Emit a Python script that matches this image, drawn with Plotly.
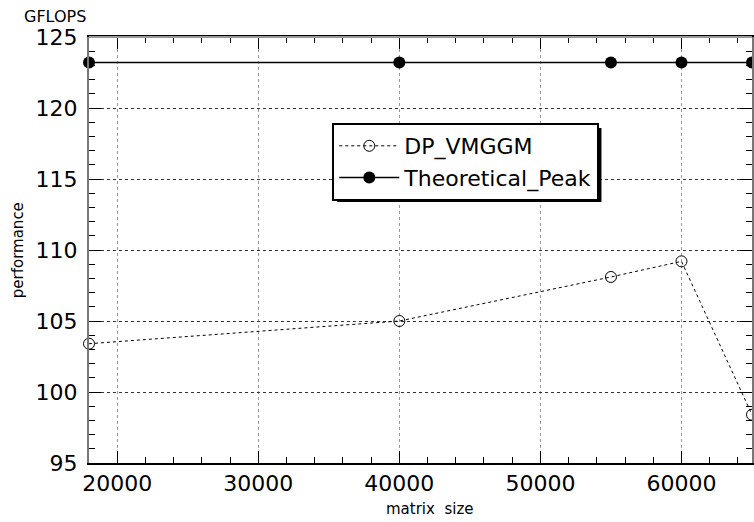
import plotly.graph_objects as go

matrix_size = [18000, 40000, 55000, 60000, 65000]
dp_vmggm = [103.4, 105.0, 108.1, 109.2, 98.4]
theoretical_peak = [123.2, 123.2, 123.2, 123.2, 123.2]

x_ticks = [20000, 30000, 40000, 50000, 60000]
y_ticks = [95, 100, 105, 110, 115, 120, 125]

W, H = 754, 522
L, R, T, B = 89, 0, 37, 59
PW, PH = W - L - R, H - T - B

def px2paper(px, py):
    return (px - L) / PW, (H - B - py) / PH

FONT = "DejaVu Sans"

fig = go.Figure()
fig.add_trace(go.Scatter(
    x=matrix_size, y=dp_vmggm, name="DP_VMGGM", mode="lines+markers",
    line=dict(color="black", width=1, dash="3px,3px"),
    marker=dict(symbol="circle-open", size=11, color="black", line=dict(width=1, color="black")),
    cliponaxis=False,
))
fig.add_trace(go.Scatter(
    x=matrix_size, y=theoretical_peak, name="Theoretical_Peak", mode="lines+markers",
    line=dict(color="black", width=1.5),
    marker=dict(symbol="circle", size=12, color="black"),
    cliponaxis=False,
))

# legend box in pixels (as rendered) and its drop shadow
lx0, ly0 = 333, 123
lx1, ly1 = 598, 197
sx0, sy0 = px2paper(lx0 + 5, ly0 + 5)
sx1, sy1 = px2paper(lx1 + 5, ly1 + 5)
fig.add_shape(type="rect", xref="paper", yref="paper", x0=sx0, y0=sy0, x1=sx1, y1=sy1,
              fillcolor="black", line=dict(width=0), layer="above")

lgx, lgy = px2paper(lx0, ly0)
fig.update_layout(
    width=W, height=H,
    margin=dict(l=L, r=R, t=T, b=B),
    paper_bgcolor="white", plot_bgcolor="white",
    font=dict(family=FONT, color="black"),
    showlegend=True,
    legend=dict(x=lgx, y=lgy, xanchor="left", yanchor="top",
                bgcolor="white", bordercolor="black", borderwidth=2,
                font=dict(size=22, family=FONT), itemwidth=60,
                tracegroupgap=0),
    xaxis=dict(range=[18000, 65000], tickvals=x_ticks, tickformat="d",
               ticks="inside", ticklen=12, tickcolor="black", tickwidth=1,
               showline=True, linecolor="black", linewidth=2, mirror="allticks",
               showgrid=True, gridcolor="#999", griddash="dot", gridwidth=1,
               tickfont=dict(size=22, family=FONT), zeroline=False,
               minor=dict(dtick=2000, tick0=0, ticks="inside", ticklen=6, tickcolor="black", showgrid=False)),
    yaxis=dict(range=[95, 125], tickvals=y_ticks,
               ticks="inside", ticklen=12, tickcolor="black", tickwidth=1,
               showline=True, linecolor="#777", linewidth=2, mirror="allticks",
               showgrid=True, gridcolor="#333", griddash="dot", gridwidth=1,
               tickfont=dict(size=22, family=FONT), zeroline=False, ticklabelstandoff=5,
               minor=dict(dtick=1, tick0=0, ticks="inside", ticklen=6, tickcolor="black", showgrid=False)),
)

# light top border like the reference
fig.add_shape(type="line", xref="paper", yref="paper", x0=0, x1=1, y0=1, y1=1,
              line=dict(color="#999", width=2), layer="above")

fig.add_annotation(text="GFLOPS", xref="paper", yref="paper",
                   x=px2paper(55, 0)[0], y=px2paper(0, 16)[1], xanchor="center", yanchor="middle",
                   showarrow=False, font=dict(size=16, family=FONT))
fig.add_annotation(text="performance", xref="paper", yref="paper", textangle=-90,
                   x=px2paper(18, 0)[0], y=px2paper(0, 250)[1], xanchor="center", yanchor="middle",
                   showarrow=False, font=dict(size=15, family=FONT))
fig.add_annotation(text="matrix  size", xref="paper", yref="paper",
                   x=px2paper(431, 0)[0], y=px2paper(0, 509)[1], xanchor="center", yanchor="middle",
                   showarrow=False, font=dict(size=15, family=FONT))

fig.write_html("out.html")
